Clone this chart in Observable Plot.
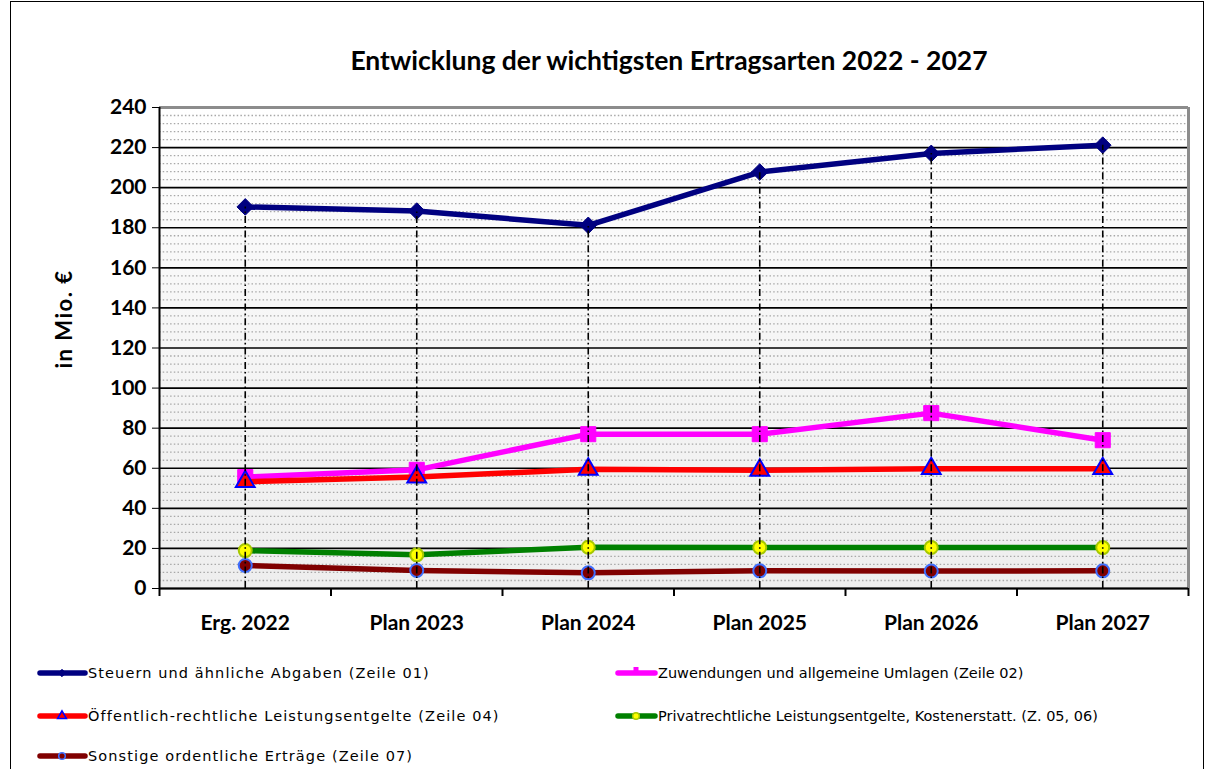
<!DOCTYPE html>
<html>
<head>
<meta charset="utf-8">
<script src="https://cdn.jsdelivr.net/npm/d3@7"></script>
<script src="https://cdn.jsdelivr.net/npm/@observablehq/plot@0.6"></script>
<style>
  html, body { margin: 0; padding: 0; background: white; }
  #wrap { position: relative; width: 1207px; height: 769px; overflow: hidden; background: white; }
  #frame { position: absolute; left: 10px; top: 1px; width: 1194px; height: 820px; border: 1.5px solid #000; box-sizing: border-box; }
  #bg { position: absolute; left: 159px; top: 107px; width: 1029px; height: 481px;
        background: linear-gradient(to bottom, #ffffff 0%, #f7f7f7 40%, #eeeeee 100%); }
  #chart { position: absolute; left: 0; top: 0; }
  #title { position: absolute; left: 0; width: 1338px; top: 44px; text-align: center;
           font: bold 26.5px Lato, sans-serif; color: #000; }
  #ylabel { position: absolute; left: 63px; top: 319px; transform: translate(-50%, -50%) rotate(-90deg);
            font: bold 22px Lato, sans-serif; letter-spacing: 1.5px; white-space: nowrap; }
  .leg { position: absolute; display: flex; align-items: center; font: 14.5px "DejaVu Sans", sans-serif; white-space: nowrap; color: #000; }
  .leg svg { display: block; }
</style>
</head>
<body>
<div id="wrap">
  <div id="frame"></div>
  <div id="bg"></div>
  <div id="chart"></div>
  <div id="title">Entwicklung der wichtigsten Ertragsarten 2022 - 2027</div>
  <div id="ylabel">in Mio. €</div>
  <div id="legend"></div>
</div>
<script>
// ---- data ----
const categories = ["Erg. 2022", "Plan 2023", "Plan 2024", "Plan 2025", "Plan 2026", "Plan 2027"];
const steuern     = [190.4, 188.3, 181.2, 207.8, 217.1, 221.2];
const zuwendungen = [55.6, 59.2, 77.0, 77.0, 87.5, 74.0];
const oeffentlich = [53.3, 55.6, 59.5, 59.0, 59.8, 59.8];
const privat      = [18.9, 16.8, 20.6, 20.5, 20.5, 20.4];
const sonstige    = [11.5, 9.0, 7.8, 8.8, 8.7, 8.8];
const yTicks = [0, 20, 40, 60, 80, 100, 120, 140, 160, 180, 200, 220, 240];
const seriesNames = [
  "Steuern und ähnliche Abgaben (Zeile 01)",
  "Zuwendungen und allgemeine Umlagen (Zeile 02)",
  "Öffentlich-rechtliche Leistungsentgelte (Zeile 04)",
  "Privatrechtliche Leistungsentgelte, Kostenerstatt. (Z. 05, 06)",
  "Sonstige ordentliche Erträge (Zeile 07)"
];

const series = [
  {name: seriesNames[0], values: steuern, stroke: "#000080", symbol: "diamond2", r: 7.5, fill: "#000080", mstroke: "#000080", msw: 1},
  {name: seriesNames[1], values: zuwendungen, stroke: "#ff00ff", symbol: "square", r: 8.5, fill: "#ff00ff", mstroke: "#ff00ff", msw: 1},
  {name: seriesNames[2], values: oeffentlich, stroke: "#ff0000", symbol: "triangle", r: 7, fill: "#ff0000", mstroke: "#0000ff", msw: 2},
  {name: seriesNames[3], values: privat, stroke: "#008000", symbol: "circle", r: 6.5, fill: "#ffff00", mstroke: "#a6c800", msw: 2},
  {name: seriesNames[4], values: sonstige, stroke: "#800000", symbol: "circle", r: 6.5, fill: "#800000", mstroke: "#3f6fff", msw: 2}
];

const rows = vals => vals.map((v, i) => ({i, v}));
const idx = categories.map((c, i) => i);
const boundaries = categories.map((c, i) => i - 0.5).concat([categories.length - 0.5]);
const minorTicks = d3.range(0, 241, 4).filter(v => v % 20 !== 0);

const marks = [
  Plot.ruleY(minorTicks, {stroke: "#a8a8a8", strokeWidth: 1.3, strokeDasharray: "1.5,2.2"}),
  Plot.ruleY(yTicks, {stroke: "#000", strokeWidth: 1.7}),
  Plot.ruleY([240], {stroke: "#8c8c8c", strokeWidth: 3}),
  Plot.ruleX([5.5], {stroke: "#8c8c8c", strokeWidth: 3}),
  Plot.ruleX([-0.5], {stroke: "#000", strokeWidth: 2}),
  Plot.ruleY([0], {stroke: "#000", strokeWidth: 2}),
  Plot.ruleX(boundaries, {y1: 0, y2: -4, stroke: "#000", strokeWidth: 2})
];
for (const s of series) {
  marks.push(Plot.line(rows(s.values), {x: "i", y: "v", stroke: s.stroke, strokeWidth: 5.5}));
  marks.push(Plot.dot(rows(s.values), {x: "i", y: "v", symbol: s.symbol, r: s.r, fill: s.fill, stroke: s.mstroke, strokeWidth: s.msw}));
}
marks.push(Plot.ruleX(rows(steuern), {x: "i", y1: 0, y2: "v", stroke: "#000", strokeWidth: 1.6, strokeDasharray: "7,3,1.6,3"}));

const chart = Plot.plot({
  width: 1207,
  height: 640,
  marginLeft: 159,
  marginRight: 19,
  marginTop: 107,
  marginBottom: 52,
  style: {background: "transparent", fontFamily: "Lato, sans-serif", fontSize: "21px", fontWeight: "bold", color: "#000"},
  x: {type: "linear", domain: [-0.5, 5.5], ticks: idx, tickFormat: i => categories[i], tickSize: 0, tickPadding: 27, label: null},
  y: {domain: [0, 240], ticks: yTicks, tickSize: 7, tickPadding: 6, label: null, tickFormat: d => String(d)},
  marks
});
document.getElementById("chart").appendChild(chart);

// ---- legend ----
const legendPos = [
  {x: 37, y: 673, w: 50}, {x: 615, y: 673, w: 42},
  {x: 37, y: 716, w: 50}, {x: 615, y: 716, w: 42},
  {x: 37, y: 756, w: 50}
];
const legend = document.getElementById("legend");
series.forEach((s, k) => {
  const p = legendPos[k];
  const div = document.createElement("div");
  div.className = "leg";
  div.style.left = p.x + "px";
  div.style.top = (p.y - 10) + "px";
  div.style.height = "20px";
  const svg = d3.create("svg").attr("width", p.w + 1).attr("height", 20);
  svg.append("line").attr("x1", 3).attr("x2", p.w - 2).attr("y1", 10).attr("y2", 10)
    .attr("stroke", s.stroke).attr("stroke-width", 5.5).attr("stroke-linecap", "round");
  const sym = {diamond2: d3.symbolDiamond2, square: d3.symbolSquare, triangle: d3.symbolTriangle, circle: d3.symbolCircle}[s.symbol];
  const small = 3.3;
  if (s.symbol === "square") {
    svg.append("rect").attr("x", p.w / 2 - 2.5).attr("y", 4).attr("width", 5).attr("height", 6).attr("fill", s.fill);
  } else {
    svg.append("path").attr("transform", `translate(${p.w / 2},${10})`)
      .attr("d", d3.symbol(sym, Math.PI * small * small)())
      .attr("fill", s.fill).attr("stroke", s.mstroke).attr("stroke-width", s.msw > 1 ? 1.5 : 1);
  }
  div.appendChild(svg.node());
  const t = document.createElement("span");
  t.textContent = s.name;
  if (p.x < 100) t.style.letterSpacing = "1.1px";
  div.appendChild(t);
  legend.appendChild(div);
});
</script>
</body>
</html>
